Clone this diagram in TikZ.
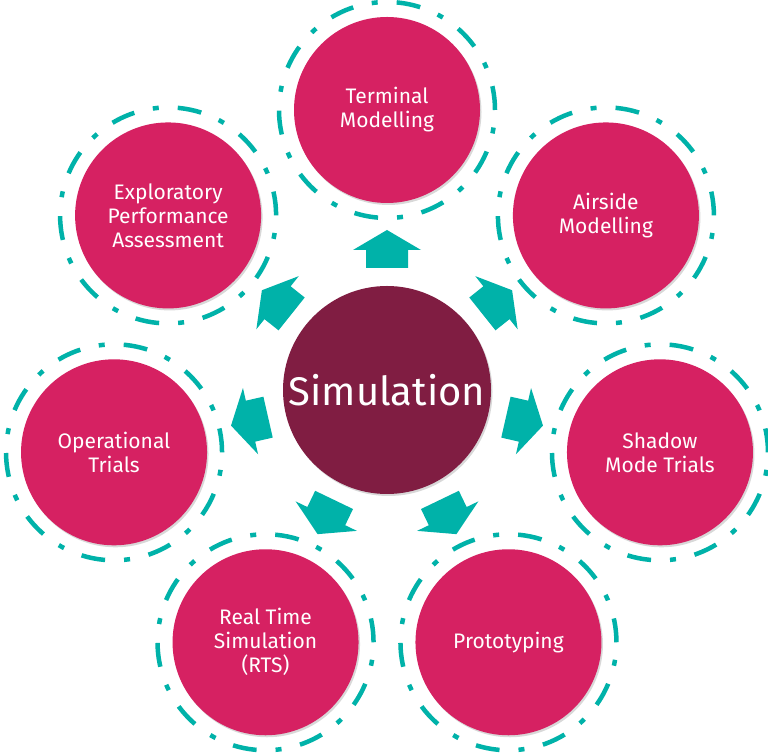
\documentclass[tikz,border=0pt]{standalone}
\usepackage{fontspec}
\setmainfont{Fira Sans}
\usetikzlibrary{calc,shadows}

\definecolor{simpink}{RGB}{214,33,98}
\definecolor{simdark}{RGB}{128,29,66}
\definecolor{simteal}{RGB}{0,178,169}

\tikzset{
  outer/.style={circle, fill=simpink, minimum size=186pt, inner sep=0pt, align=center,
    text=white, font=\fontsize{21}{24}\selectfont,
    drop shadow={shadow xshift=1.5pt, shadow yshift=-2pt, opacity=.3}},
  hub/.style={circle, fill=simdark, minimum size=208pt, inner sep=0pt,
    text=white, font=\fontsize{40}{46}\selectfont,
    drop shadow={shadow xshift=1.5pt, shadow yshift=-2pt, opacity=.3}},
  ring/.style={simteal, line width=4.5pt, dash pattern=on 24pt off 19pt on 6pt off 19pt},
  blockarrow/.style={fill=simteal}
}

\begin{document}
\begin{tikzpicture}[x=1pt,y=1pt]
    \useasboundingbox[fill=white] (0,0) rectangle (768,754);

    % hub
    \node[hub] (sim) at (387,364) {Simulation};

    % topics round the hub
    \foreach \a/\n/\t in {90/term/{Terminal\\Modelling},
                          38.57/airside/{Airside\\Modelling},
                          -12.86/shadow/{Shadow\\Mode Trials},
                          -64.29/proto/{Prototyping},
                          -115.71/rts/{Real Time\\Simulation\\(RTS)},
                          -167.14/optrials/{Operational\\Trials},
                          141.43/explore/{Exploratory\\Performance\\Assessment}} {
        \draw[ring] ($(sim)+(\a:280)$) circle[radius=108pt];
        \node[outer] (\n) at ($(sim)+(\a:280)$) {\t};
    }

    % block arrows out of the hub
    \foreach \a in {90, 38.57, -12.86, -64.29, -115.71, -167.14, 141.43} {
        \fill[blockarrow, shift={(sim)}, rotate=\a]
            (122,-21) -- (140,-21) -- (140,-34) -- (160,0) -- (140,34) -- (140,21) -- (122,21) -- cycle;
    }
\end{tikzpicture}
\end{document}
